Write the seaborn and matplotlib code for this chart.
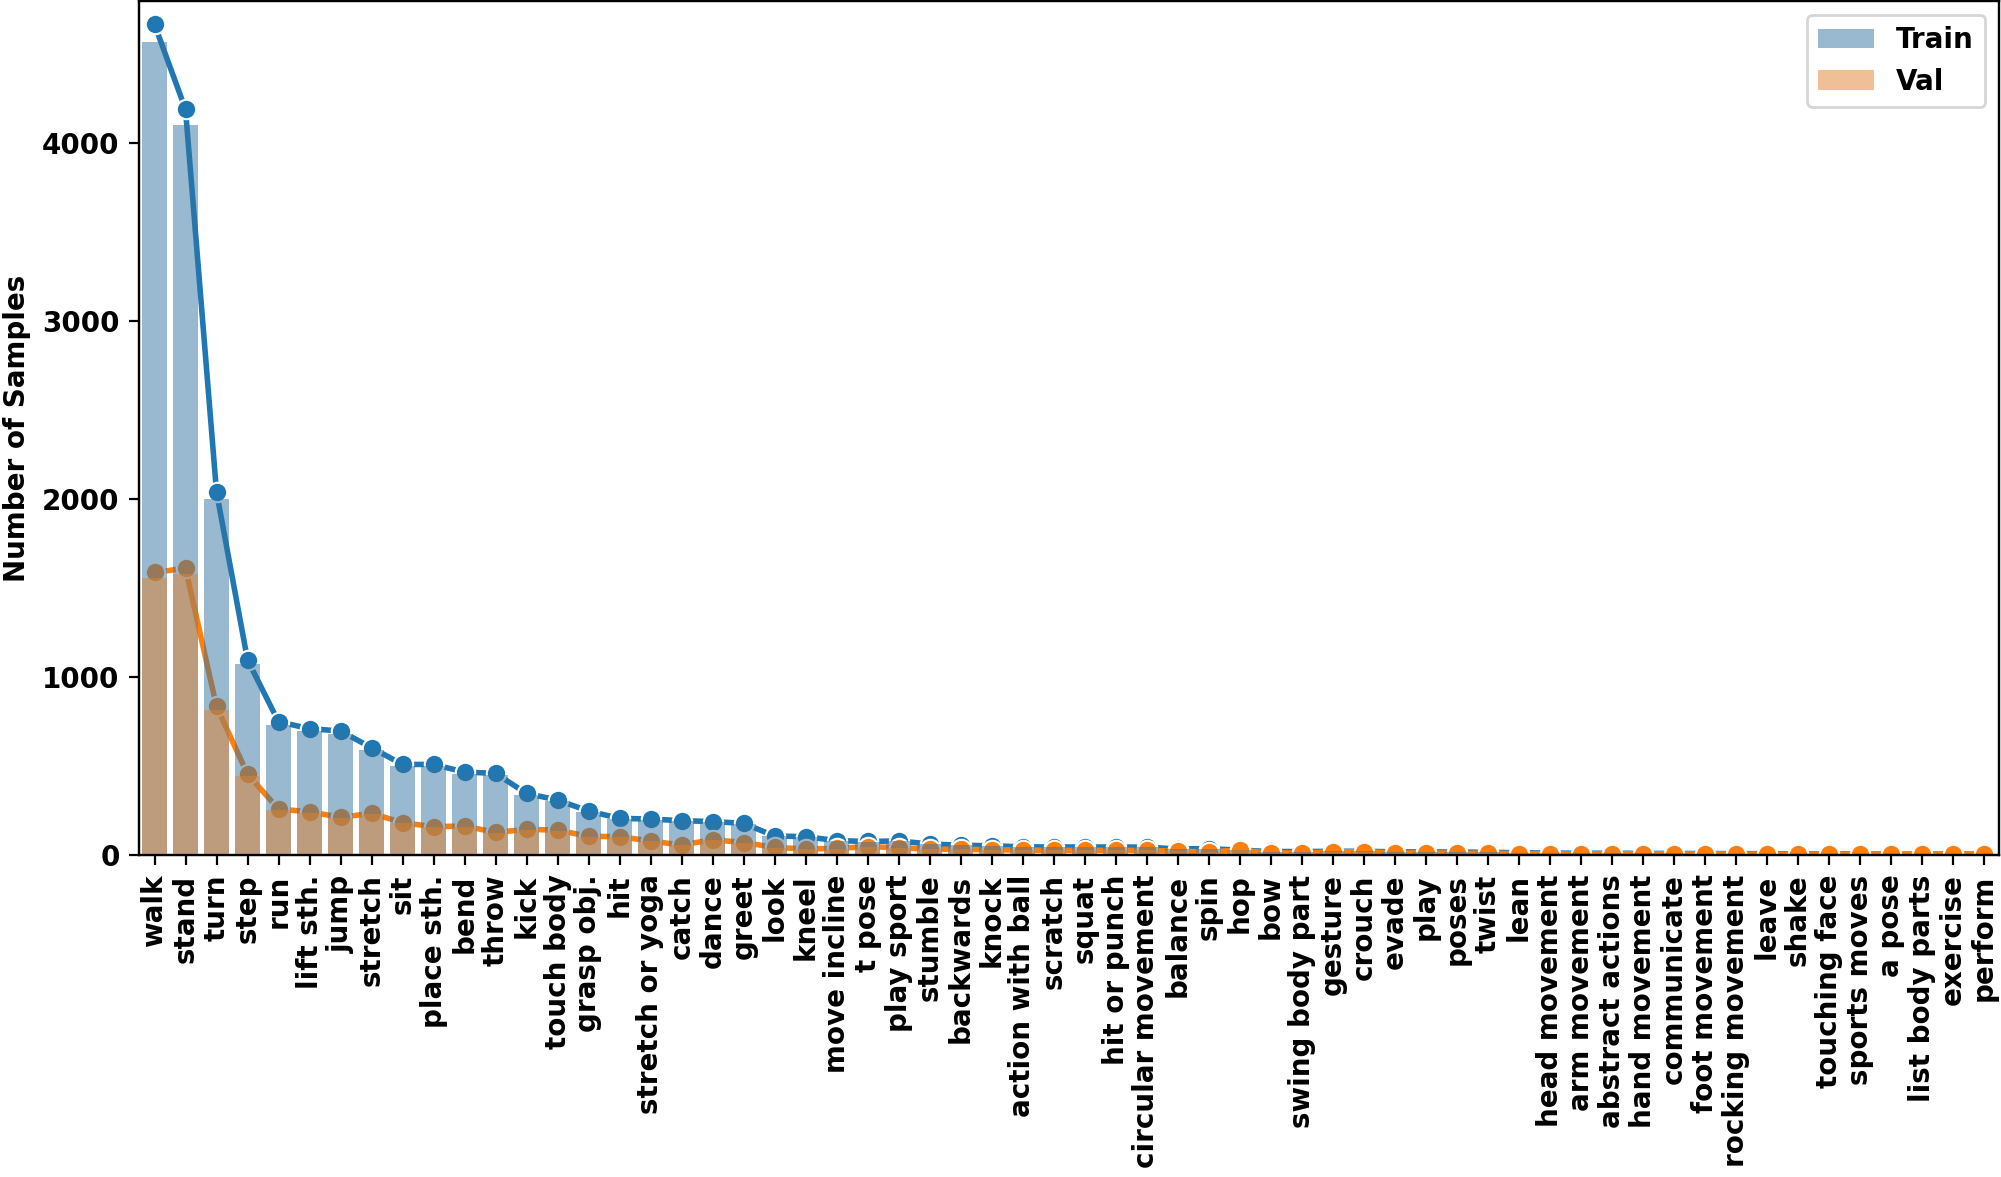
import matplotlib
matplotlib.use("Agg")
import matplotlib.pyplot as plt
import seaborn as sns
import pandas as pd
import numpy as np

categories = ["walk", "stand", "turn", "step", "run", "lift sth.", "jump", "stretch", "sit",
              "place sth.", "bend", "throw", "kick", "touch body", "grasp obj.", "hit",
              "stretch or yoga", "catch", "dance", "greet", "look", "kneel", "move incline",
              "t pose", "play sport", "stumble", "backwards", "knock", "action with ball",
              "scratch", "squat", "hit or punch", "circular movement", "balance", "spin", "hop",
              "bow", "swing body part", "gesture", "crouch", "evade", "play", "poses", "twist",
              "lean", "head movement", "arm movement", "abstract actions", "hand movement",
              "communicate", "foot movement", "rocking movement", "leave", "shake",
              "touching face", "sports moves", "a pose", "list body parts", "exercise", "perform"]

train_counts = [4669, 4191, 2041, 1097, 749, 710, 697, 603, 509, 509, 466, 459, 346, 309, 247,
                206, 202, 193, 188, 178, 107, 103, 81, 76, 79, 62, 55, 52, 46, 45, 45, 45, 44,
                34, 36, 27, 20, 19, 21, 21, 18, 17, 17, 15, 13, 11, 10, 10, 9, 9, 8, 8,
                7, 6, 6, 6, 5, 5, 5, 5]

val_counts = [1588, 1612, 835, 455, 258, 243, 212, 234, 182, 159, 163, 127, 144, 140, 105,
              103, 79, 56, 86, 70, 43, 34, 37, 47, 41, 33, 32, 30, 27, 26, 26, 26, 26,
              21, 17, 28, 11, 11, 17, 19, 11, 11, 11, 9, 8, 7, 6, 7, 7, 6, 6, 6,
              4, 4, 4, 4, 4, 4, 4, 4]

plt.rcParams["font.family"] = ["DejaVu Sans"]
plt.rcParams["font.weight"] = "bold"
plt.rcParams["axes.labelweight"] = "bold"
plt.rcParams["font.size"] = 10

df = pd.DataFrame({"action": categories, "Train": train_counts, "Val": val_counts})
df["pos"] = np.arange(len(df))

W, H, DPI = 2001, 1177, 200
fig = plt.figure(figsize=(W / DPI, H / DPI), dpi=DPI)
ax = fig.add_axes([139 / W, 1 - 855 / H, (1999 - 139) / W, (855 - 1) / H])
ax2 = ax.twinx()

# lines (below)
sns.lineplot(data=df, x="pos", y="Train", marker="o", color="#1f77b4", ax=ax, sort=False,
             linewidth=2, markersize=7)
sns.lineplot(data=df, x="pos", y="Val", marker="o", color="#ff7f0e", ax=ax, sort=False,
             linewidth=2, markersize=7)

# bars (on top, semi-transparent)
sns.barplot(data=df, x="action", y="Train", color="#1f77b4", alpha=0.5, ax=ax2, label="Train")
sns.barplot(data=df, x="action", y="Val", color="#ff7f0e", alpha=0.5, ax=ax2, label="Val")

n = len(categories)
ax.set_xlim(-0.5, n - 0.5)
ax.set_ylim(0, 4800)
ax2.set_ylim(0, max(train_counts) * 1.05)
ax2.tick_params(axis="y", right=False, labelright=False)
ax2.set_ylabel("")

ax.set_xticks(np.arange(n))
ax.set_xticklabels(categories, rotation=90, fontweight="bold")
ax.set_yticks([0, 1000, 2000, 3000, 4000])
ax.set_yticklabels(["0", "1000", "2000", "3000", "4000"], fontweight="bold")
ax.set_xlabel("")
ax.set_ylabel("Number of Samples", fontweight="bold")

ax2.legend(loc="upper right", prop={"weight": "bold", "size": 10})

fig.savefig("out.png", dpi=DPI)
